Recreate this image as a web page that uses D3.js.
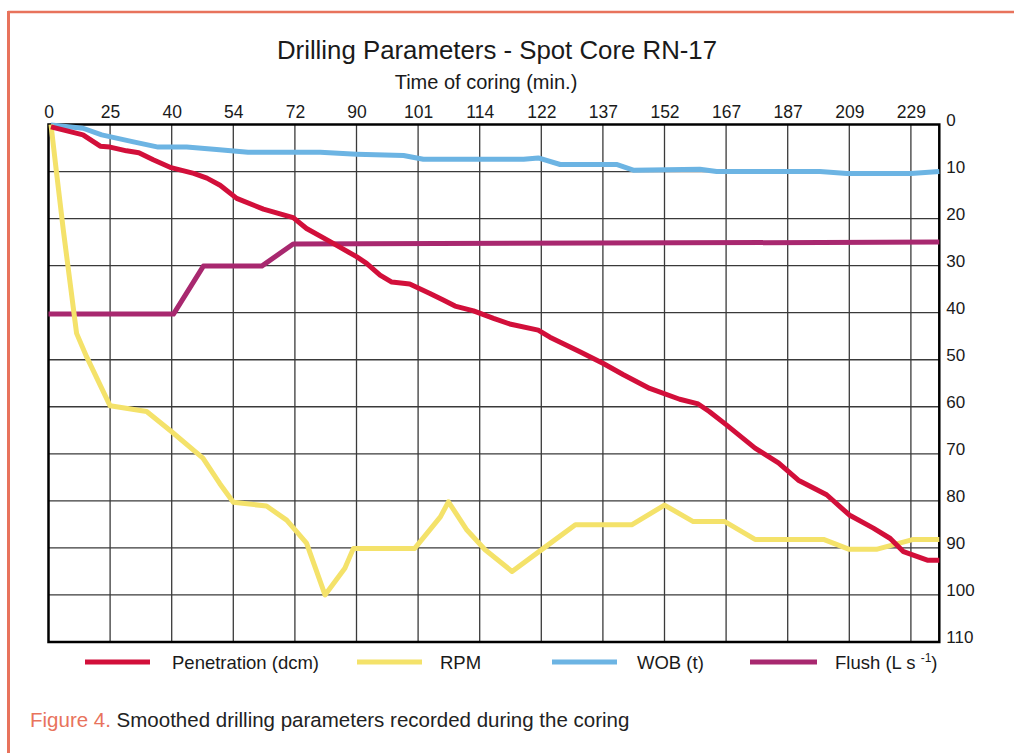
<!DOCTYPE html>
<html>
<head>
<meta charset="utf-8">
<script src="https://cdn.jsdelivr.net/npm/d3@7"></script>
<style>
  body { margin: 0; background: #fff; }
  svg { font-family: "Liberation Sans", Arial, sans-serif; }
</style>
</head>
<body>
<div class="chart"></div>
<script>
// tick labels on the top axis (minutes), grid columns are evenly spaced
var timeTicks = [0, 25, 40, 54, 72, 90, 101, 114, 122, 137, 152, 167, 187, 209, 229];
var endTime = 238;
var valueTicks = [0, 10, 20, 30, 40, 50, 60, 70, 80, 90, 100, 110];

// Penetration (dcm)
var penTime = [1, 14, 21, 25, 29, 32, 35.5, 39.6, 45, 48, 51, 55, 62.8, 71.5, 75.4, 82.3, 90, 91.8, 94.2, 96.3, 99.5, 103.5, 106.3, 108.8, 112.7, 115.8, 117.9, 121.6, 124.1, 131.4, 137.1, 142, 148.4, 155.7, 160.2, 162.9, 167.2, 176.4, 184, 190.8, 200.9, 209, 216.8, 222.3, 226.6, 234.2, 238];
var penValues = [0.5, 2.2, 4.6, 4.8, 5.6, 6.0, 7.5, 9.1, 10.4, 11.4, 12.9, 15.7, 18.0, 19.8, 22.1, 24.9, 28.1, 29.5, 32.0, 33.5, 33.9, 35.9, 37.3, 38.6, 39.6, 41.2, 42.4, 43.7, 45.2, 48.3, 50.8, 53.2, 56.1, 58.4, 59.4, 61.0, 63.9, 68.8, 71.9, 75.6, 78.7, 83.0, 85.8, 88.0, 90.8, 92.6, 92.6];

// RPM
var rpmTime = [1, 3.3, 6, 11.4, 15.5, 25, 33.9, 40, 47.1, 50.9, 54, 63.7, 69.6, 75.4, 80.8, 86.6, 89.1, 100.4, 105.7, 107.4, 111.3, 114.7, 118.2, 122.5, 130.3, 144, 152, 159, 166.7, 176.4, 199.8, 209, 217.8, 229.8, 238];
var rpmValues = [0, 10.4, 22.4, 44.4, 49.4, 59.8, 61.0, 65.3, 70.9, 76.3, 80.3, 81.1, 84.1, 89.0, 100.0, 94.3, 90.1, 90.1, 83.4, 80.2, 86.2, 90.4, 95.0, 90.1, 85.1, 85.1, 80.9, 84.4, 84.4, 88.2, 88.2, 90.3, 90.3, 88.2, 88.2];

// WOB (t)
var wobTime = [1, 14, 21.6, 30.7, 36.7, 43.4, 50.2, 58.3, 79.4, 90, 98.4, 102.1, 119.7, 121.6, 126.6, 140.3, 144.4, 160.6, 164.7, 198.5, 208.2, 229, 238];
var wobValues = [0.1, 0.8, 2.2, 3.7, 4.8, 4.8, 5.3, 5.9, 5.9, 6.3, 6.6, 7.4, 7.4, 7.1, 8.5, 8.5, 9.7, 9.5, 10.0, 10.0, 10.4, 10.4, 10.0];

// Flush (L s-1)
var flushTime = [0, 40.4, 47.2, 62.3, 71.5, 238];
var flushValues = [40.3, 40.3, 30.1, 30.1, 25.4, 25.0];

function init(){
    var w = 1014, h = 753;
    var left = 48.5, right = 939.3, top = 124.5, bottom = 642;
    var step = 61.6;

    var svg = d3.select(".chart")
                .append("svg")
                .attr("width", w)
                .attr("height", h);

    // page frame
    svg.append("line").attr("x1", 8).attr("x2", w).attr("y1", 12).attr("y2", 12)
        .attr("stroke", "#e8735c").attr("stroke-width", 2.5);
    svg.append("line").attr("x1", 8.5).attr("x2", 8.5).attr("y1", 11).attr("y2", h)
        .attr("stroke", "#e8735c").attr("stroke-width", 3);

    // piecewise scale: evenly spaced columns labelled with irregular times
    var x = d3.scaleLinear()
        .domain(timeTicks.concat([endTime]))
        .range(timeTicks.map(function(d, i){ return left + i * step; }).concat([right]));
    var y = d3.scaleLinear().domain([0, 110]).range([top, bottom]);

    // grid
    svg.append("g").selectAll("line")
        .data(timeTicks.slice(1))
        .enter().append("line")
        .attr("x1", function(d){ return x(d); })
        .attr("x2", function(d){ return x(d); })
        .attr("y1", top).attr("y2", bottom)
        .attr("stroke", "#3a3a3a").attr("stroke-width", 1.3);
    svg.append("g").selectAll("line")
        .data(valueTicks.slice(1, -1))
        .enter().append("line")
        .attr("x1", left).attr("x2", right)
        .attr("y1", function(d){ return y(d); })
        .attr("y2", function(d){ return y(d); })
        .attr("stroke", "#3a3a3a").attr("stroke-width", 1.3);

    // axes
    var topAxis = svg.append("g")
        .attr("transform", "translate(0," + top + ")")
        .call(d3.axisTop(x).tickValues(timeTicks).tickSize(0).tickPadding(7));
    topAxis.select(".domain").remove();
    topAxis.selectAll("text").attr("font-size", 17.5).attr("fill", "#1a1a1a")
        .style("font-family", "Liberation Sans, Arial, sans-serif");

    var rightAxis = svg.append("g")
        .attr("transform", "translate(" + right + ",0)")
        .call(d3.axisRight(y).tickValues(valueTicks).tickSize(0).tickPadding(7));
    rightAxis.select(".domain").remove();
    rightAxis.selectAll("text").attr("font-size", 17).attr("fill", "#1a1a1a")
        .attr("dy", "0.05em")
        .style("font-family", "Liberation Sans, Arial, sans-serif");

    // plot border
    svg.append("rect")
        .attr("x", left).attr("y", top)
        .attr("width", right - left).attr("height", bottom - top)
        .attr("fill", "none").attr("stroke", "#000").attr("stroke-width", 2.5);

    // series
    var series = [
        { name: "Flush", t: flushTime, v: flushValues, color: "#a8286f" },
        { name: "WOB", t: wobTime, v: wobValues, color: "#6cb4e3" },
        { name: "RPM", t: rpmTime, v: rpmValues, color: "#f4e26a" },
        { name: "Penetration", t: penTime, v: penValues, color: "#d20f3a" }
    ];
    var line = d3.line()
        .x(function(d){ return x(d[0]); })
        .y(function(d){ return y(d[1]); });

    svg.selectAll(".series")
        .data(series)
        .enter().append("path")
        .attr("class", "series")
        .attr("d", function(s){ return line(d3.zip(s.t, s.v)); })
        .attr("fill", "none")
        .attr("stroke", function(s){ return s.color; })
        .attr("stroke-width", 5)
        .attr("stroke-linejoin", "round");

    // titles
    svg.append("text").attr("x", 497).attr("y", 59).attr("text-anchor", "middle")
        .attr("font-size", 25.8).attr("fill", "#1a1a1a").text("Drilling Parameters - Spot Core RN-17");
    svg.append("text").attr("x", 486).attr("y", 89).attr("text-anchor", "middle")
        .attr("font-size", 20).attr("fill", "#1a1a1a").text("Time of coring (min.)");

    // legend
    var legend = [
        { label: "Penetration (dcm)", color: "#d20f3a", x1: 85, x2: 150, tx: 172 },
        { label: "RPM", color: "#f4e26a", x1: 357, x2: 422, tx: 440 },
        { label: "WOB (t)", color: "#6cb4e3", x1: 552, x2: 617, tx: 637 },
        { label: "Flush (L s", color: "#a8286f", x1: 750, x2: 817, tx: 835 }
    ];
    var lg = svg.append("g").selectAll("g").data(legend).enter().append("g");
    lg.append("line")
        .attr("x1", function(d){ return d.x1; }).attr("x2", function(d){ return d.x2; })
        .attr("y1", 662).attr("y2", 662)
        .attr("stroke", function(d){ return d.color; }).attr("stroke-width", 5);
    var lt = lg.append("text")
        .attr("x", function(d){ return d.tx; }).attr("y", 669)
        .attr("font-size", 18.5).attr("fill", "#1a1a1a")
        .text(function(d){ return d.label; });
    lt.filter(function(d){ return d.label.indexOf("Flush") === 0; })
        .each(function(){
            var t = d3.select(this);
            t.append("tspan").text(" ");
            t.append("tspan").attr("font-size", 12).attr("dy", -7).text("-1");
            t.append("tspan").attr("dy", 7).text(")");
        });

    // caption
    var cap = svg.append("text").attr("x", 30).attr("y", 727).attr("font-size", 20.5);
    cap.append("tspan").attr("fill", "#e8735c").text("Figure 4.");
    cap.append("tspan").attr("fill", "#222").text(" Smoothed drilling parameters recorded during the coring");
}
window.onload = init;
</script>
</body>
</html>
